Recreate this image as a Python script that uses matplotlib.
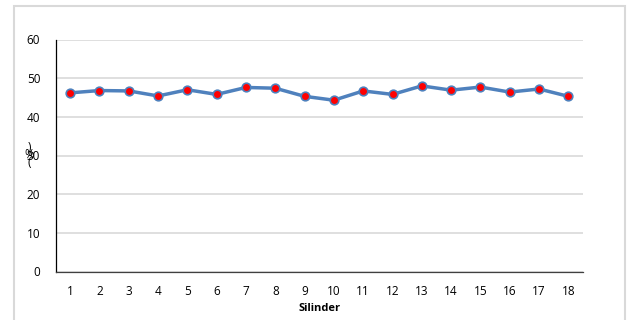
import matplotlib
matplotlib.use("Agg")
from matplotlib import pyplot as plt
from matplotlib.patches import Rectangle

silinder = [str(i) for i in range(1, 19)]
nilai = [46.2, 46.8, 46.7, 45.4, 47.0, 45.8, 47.6, 47.4, 45.3,
         44.3, 46.7, 45.8, 48.0, 46.9, 47.7, 46.4, 47.2, 45.3]
yticks = [0, 10, 20, 30, 40, 50, 60]

plt.rcParams['font.family'] = ['Open Sans', 'DejaVu Sans']

fig = plt.figure(figsize=(6.27, 3.2), dpi=100)
# light frame round the chart area
fig.patches.append(Rectangle((14 / 627, -0.05), (625 - 14) / 627, 1.05 - 6 / 320,
                             transform=fig.transFigure, fill=False,
                             edgecolor="#d9d9d9", linewidth=1.5))

ax = fig.add_axes([55.5 / 627, 48.5 / 320, (583 - 55.5) / 627, (271.5 - 39.5) / 320])
x = range(1, len(nilai) + 1)
ax.plot(x, nilai, color="#4f81bd", linewidth=2.5, marker="o", markersize=6.2,
        markerfacecolor="red", markeredgecolor="#4f81bd", markeredgewidth=1.2,
        zorder=3)

ax.set_xlim(0.5, 18.5)
ax.set_ylim(0, 60)
ax.set_yticks(yticks)
ax.set_xticks(list(x))
ax.set_xticklabels(silinder)
ax.tick_params(length=0, labelsize=8.5, colors="#000000", pad=10)
ax.tick_params(axis="y", pad=11)
ax.grid(axis="y", color="#d9d9d9", linewidth=1.2)
ax.set_axisbelow(True)
for s in ["top", "right"]:
    ax.spines[s].set_visible(False)
ax.spines["left"].set_color("#000000")
ax.spines["left"].set_linewidth(0.9)
ax.spines["bottom"].set_color("#404040")
ax.spines["bottom"].set_linewidth(0.9)

ax.set_xlabel("Silinder", fontsize=8, fontweight="bold", labelpad=3)
fig.text(29 / 627, 1 - 155 / 320, ")\n%\n(", fontsize=8.5, ha="center", va="center",
         linespacing=0.45)

plt.savefig("out.png", dpi=100)
